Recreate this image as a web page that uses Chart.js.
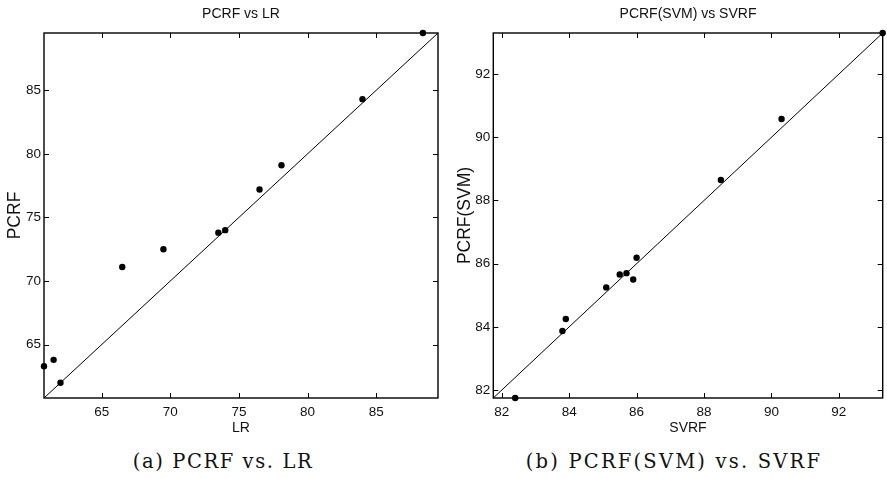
<!DOCTYPE html>
<html><head><meta charset="utf-8">
<script src="https://cdn.jsdelivr.net/npm/chart.js@4/dist/chart.umd.min.js"></script>
<style>
html,body{margin:0;padding:0;background:#fff;width:887px;height:478px;overflow:hidden;position:relative;}
.panel{position:absolute;top:0;width:443px;height:440px;}
#pa{left:0}
#pb{left:444px}
.cap{position:absolute;top:450px;font-family:"DejaVu Serif","Liberation Serif",serif;font-size:19.5px;line-height:24px;color:#111;white-space:nowrap;transform:translateX(-50%);}
#capa{left:223px;letter-spacing:1.6px}
#capb{left:674px;letter-spacing:2.2px}
</style></head><body>
<div class="panel" id="pa"><canvas id="ca" width="443" height="440"></canvas></div>
<div class="panel" id="pb"><canvas id="cb" width="443" height="440"></canvas></div>
<div class="cap" id="capa">(a) PCRF vs. LR</div>
<div class="cap" id="capb">(b) PCRF(SVM) vs. SVRF</div>
<script>
// ---- data (a) ----
const lrValues   = [60.8, 61.5, 62.0, 66.5, 69.5, 73.5, 74.0, 76.5, 78.1, 84.0, 88.4];
const pcrfValues = [63.3, 63.8, 62.0, 71.1, 72.5, 73.8, 74.0, 77.2, 79.1, 84.3, 89.5];
const lrTicks    = [65, 70, 75, 80, 85];
// ---- data (b) ----
const svrfValues    = [82.4, 83.8, 83.9, 85.1, 85.5, 85.7, 85.9, 86.0, 88.5, 90.3, 93.3];
const pcrfSvmValues = [81.75, 83.87, 84.25, 85.25, 85.66, 85.7, 85.5, 86.19, 88.65, 90.58, 93.3];
const svrfTicks     = [82, 84, 86, 88, 90, 92];

const FONT = 'Arial, "Liberation Sans", Helvetica, sans-serif';
const INK = '#111';

const framePlugin = {
  id: 'frame',
  afterDatasetsDraw(chart) {
    const {ctx, chartArea: a, scales} = chart;
    const L = 5;
    ctx.save();
    ctx.strokeStyle = '#000';
    ctx.lineWidth = 1;
    scales.x.ticks.forEach(t => {
      const px = Math.round(scales.x.getPixelForValue(t.value)) + 0.5;
      ctx.beginPath();
      ctx.moveTo(px, a.bottom); ctx.lineTo(px, a.bottom - L);
      ctx.moveTo(px, a.top); ctx.lineTo(px, a.top + L);
      ctx.stroke();
    });
    scales.y.ticks.forEach(t => {
      const py = Math.round(scales.y.getPixelForValue(t.value)) + 0.5;
      ctx.beginPath();
      ctx.moveTo(a.left, py); ctx.lineTo(a.left + L, py);
      ctx.moveTo(a.right, py); ctx.lineTo(a.right - L, py);
      ctx.stroke();
    });
    ctx.lineWidth = 1.4;
    ctx.strokeRect(a.left, a.top, a.right - a.left, a.bottom - a.top);
    ctx.restore();
  }
};

function makeChart(id, xs, ys, ticks, title, xTitle, yTitle, yWidth, padRight, yTitlePad) {
  const lo = Math.min(...xs, ...ys);
  const hi = Math.max(...xs, ...ys);
  const pts = xs.map((x, i) => ({x, y: ys[i]}));
  return new Chart(document.getElementById(id), {
    type: 'scatter',
    data: {
      datasets: [
        { data: pts, pointRadius: 3.2, pointHoverRadius: 3.2, backgroundColor: '#000', borderColor: '#000', borderWidth: 0, order: 1, clip: false },
        { data: [{x: lo, y: lo}, {x: hi, y: hi}], showLine: true, pointRadius: 0, borderColor: '#000', borderWidth: 1, order: 2, clip: false }
      ]
    },
    options: {
      responsive: false, animation: false, devicePixelRatio: 1,
      events: [],
      layout: { padding: { left: 0, right: padRight, top: 0, bottom: 2 } },
      plugins: {
        legend: { display: false }, tooltip: { enabled: false },
        title: { display: true, fullSize: false, text: title, color: INK, font: { family: FONT, size: 14, weight: 'normal', lineHeight: 1.2 }, padding: { top: 6, bottom: 10.2 } }
      },
      scales: {
        x: {
          type: 'linear', min: lo, max: hi, bounds: 'data',
          grid: { display: false, drawTicks: false }, border: { display: false },
          ticks: { color: INK, font: { family: FONT, size: 13.5 }, padding: 6, autoSkip: false, maxRotation: 0 },
          afterBuildTicks: s => { s.ticks = ticks.map(v => ({value: v})); },
          afterFit: s => { s.height = 40; },
          title: { display: true, text: xTitle, color: INK, font: { family: FONT, size: 14, lineHeight: 1.2 }, padding: { top: 0, bottom: 1.6 } }
        },
        y: {
          type: 'linear', min: lo, max: hi, bounds: 'data',
          grid: { display: false, drawTicks: false }, border: { display: false },
          ticks: { color: INK, font: { family: FONT, size: 13.5 }, padding: 3, autoSkip: false },
          afterBuildTicks: s => { s.ticks = ticks.map(v => ({value: v})); },
          afterFit: s => { s.width = yWidth; },
          title: { display: true, text: yTitle, color: INK, font: { family: FONT, size: 17.5, lineHeight: 1.2 }, padding: { top: yTitlePad, bottom: 0 } }
        }
      }
    },
    plugins: [framePlugin]
  });
}

makeChart('ca', lrValues, pcrfValues, lrTicks, 'PCRF vs LR', 'LR', 'PCRF', 44, 5, 5);
makeChart('cb', svrfValues, pcrfSvmValues, svrfTicks, 'PCRF(SVM) vs SVRF', 'SVRF', 'PCRF(SVM)', 49.3, 4.3, 10.5);
</script>
</body></html>
